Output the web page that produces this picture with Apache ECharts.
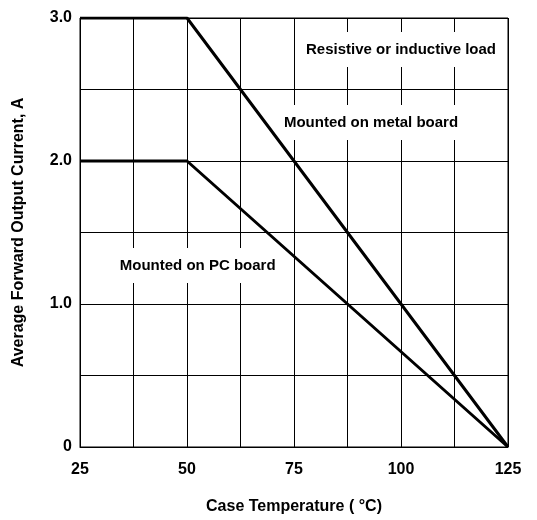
<!DOCTYPE html>
<html>
<head>
<meta charset="utf-8">
<script src="https://cdn.jsdelivr.net/npm/echarts@6/dist/echarts.min.js"></script>
<style>
  html, body { margin: 0; padding: 0; background: #fff; }
  #chart { width: 537px; height: 520px; }
</style>
</head>
<body>
<div id="chart"></div>
<script>
// derating curves, case temperature (C) vs current (A)
var metalTemp = [25, 50, 125];
var metalCurrent = [3.0, 3.0, 0];
var pcTemp = [25, 50, 125];
var pcCurrent = [2.0, 2.0, 0];

// notes written inside the plot
var noteTemp = [100, 93, 52.5];
var noteCurrent = [2.78, 2.27, 1.27];
var noteText = ['Resistive or inductive load', 'Mounted on metal board', 'Mounted on PC board'];

var yLabels = { 0: '0', 1: '1.0', 2: '2.0', 3: '3.0' };
var xLabels = [25, 50, 75, 100, 125];

function pairs(xs, ys) {
  var out = [];
  for (var i = 0; i < xs.length; i++) out.push([xs[i], ys[i]]);
  return out;
}

var font = 'Liberation Sans, Arial, sans-serif';
var chart = echarts.init(document.getElementById('chart'));
chart.setOption({
  backgroundColor: '#fff',
  animation: false,
  grid: {
    left: 80, right: 29, top: 18, bottom: 73,
    containLabel: false, outerBoundsMode: 'none',
    show: true, borderColor: '#000', borderWidth: 1
  },
  xAxis: {
    type: 'value', min: 25, max: 125, interval: 12.5,
    name: 'Case Temperature ( \u00B0C)',
    nameLocation: 'middle', nameGap: 52,
    nameTextStyle: { fontFamily: font, fontWeight: 'bold', fontSize: 16, color: '#000' },
    axisLine: { lineStyle: { color: '#000', width: 1 } },
    axisTick: { show: false },
    splitLine: { lineStyle: { color: '#000', width: 1 } },
    axisLabel: {
      margin: 15,
      fontFamily: font, fontWeight: 'bold', fontSize: 16, color: '#000',
      formatter: function (v) { return xLabels.indexOf(v) >= 0 ? String(v) : ''; }
    }
  },
  yAxis: {
    type: 'value', min: 0, max: 3, interval: 0.5,
    name: 'Average Forward Output Current, A',
    nameLocation: 'middle', nameGap: 53,
    nameTextStyle: { fontFamily: font, fontWeight: 'bold', fontSize: 16, color: '#000' },
    axisLine: { show: true, lineStyle: { color: '#000', width: 1 } },
    axisTick: { show: false },
    splitLine: { lineStyle: { color: '#000', width: 1 } },
    axisLabel: {
      margin: 8,
      fontFamily: font, fontWeight: 'bold', fontSize: 16, color: '#000',
      formatter: function (v) { return yLabels[v] !== undefined ? yLabels[v] : ''; }
    }
  },
  series: [
    {
      name: 'Metal board', type: 'line', data: pairs(metalTemp, metalCurrent),
      symbol: 'none', lineStyle: { color: '#000', width: 3 }, z: 3
    },
    {
      name: 'PC board', type: 'line', data: pairs(pcTemp, pcCurrent),
      symbol: 'none', lineStyle: { color: '#000', width: 3 }, z: 3
    },
    {
      name: 'notes', type: 'scatter', symbolSize: 0, z: 4, silent: true,
      itemStyle: { color: '#fff', opacity: 1 },
      data: pairs(noteTemp, noteCurrent).map(function (p, i) {
        return { value: p, label: { formatter: noteText[i] } };
      }),
      label: {
        show: true, position: 'inside',
        fontFamily: font, fontWeight: 'bold', fontSize: 15, color: '#000',
        textBorderWidth: 0, textBorderColor: 'transparent',
        backgroundColor: '#fff', padding: [10, 4]
      }
    }
  ]
});
</script>
</body>
</html>
